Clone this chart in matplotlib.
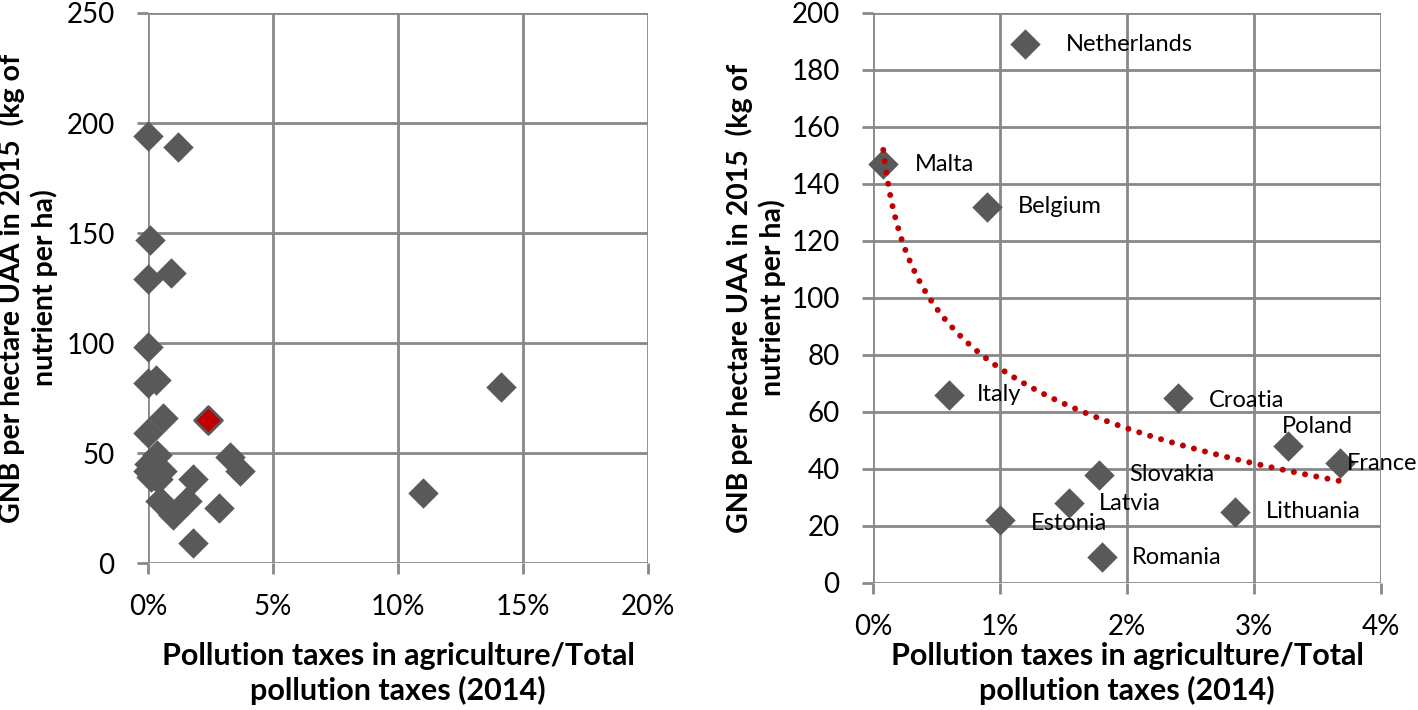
import matplotlib
matplotlib.use('Agg')
import matplotlib.pyplot as plt
from matplotlib.ticker import FuncFormatter
import numpy as np

plt.rcParams['font.family'] = ['Lato', 'DejaVu Sans']

# left panel: all EU countries (x in %, y in kg/ha)
all_x = [0.0, 1.2, 0.08, 0.0, 0.9, 0.0, 0.0, 0.3, 0.6, 0.0, 0.35, 3.27, 3.68,
         1.78, 0.48, 1.54, 1.0, 2.85, 1.8, 14.1, 11.0,
         0.0, 0.05, 0.1, 0.3, 0.4, 0.55]
all_y = [194, 189, 147, 129, 132, 98, 82, 83, 66, 59, 49, 48, 42,
         38, 28, 28, 22, 25, 9, 80, 32,
         42, 45, 39, 44, 38, 42]
hl_x = [2.4]
hl_y = [65]

# right panel: labelled countries
countries = ['Netherlands', 'Malta', 'Belgium', 'Italy', 'Croatia', 'Poland',
             'France', 'Slovakia', 'Latvia', 'Estonia', 'Lithuania', 'Romania']
sel_x = [1.2, 0.08, 0.9, 0.6, 2.4, 3.27, 3.68, 1.78, 1.54, 1.0, 2.85, 1.8]
sel_y = [189, 147, 132, 66, 65, 48, 42, 38, 28, 22, 25, 9]
# label offsets (in % and kg/ha)
lbl_off = {'Netherlands': (0.32, 0), 'Malta': (0.25, 0), 'Belgium': (0.24, 0),
           'Italy': (0.22, 0), 'Croatia': (0.24, -1), 'Poland': (-0.05, 7),
           'France': (0.05, 0), 'Slovakia': (0.24, 0), 'Latvia': (0.24, 0),
           'Estonia': (0.24, -1), 'Lithuania': (0.24, 0), 'Romania': (0.24, 0)}

grey = '#595959'
gridc = '#888888'
ylab = 'GNB per hectare UAA in 2015  (kg of\nnutrient per ha)'
xlab = 'Pollution taxes in agriculture/Total\npollution taxes (2014)'
pct = FuncFormatter(lambda v, p: '%d%%' % round(v))

fig = plt.figure(figsize=(14.18, 7.10), dpi=100)
ax1 = fig.add_axes([0.1044, 0.207, 0.3526, 0.7747])
ax2 = fig.add_axes([0.6157, 0.1789, 0.3583, 0.8028])

def style(ax):
    ax.grid(True, color=gridc, linewidth=2)
    ax.set_axisbelow(True)
    for s in ax.spines.values():
        s.set_visible(False)
    ax.tick_params(length=8, width=2, color=gridc, labelsize=20)
    ax.tick_params(axis='y', pad=16)
    ax.tick_params(axis='x', pad=14)
    ax.xaxis.set_major_formatter(pct)

ax1.scatter(all_x, all_y, marker='D', s=240, color=grey, zorder=3,
            linewidths=0, clip_on=False)
ax1.scatter(hl_x, hl_y, marker='D', s=200, color='#c00000', edgecolors=grey,
            linewidths=2, zorder=4)
ax1.set_xlim(0, 20)
ax1.set_ylim(0, 250)
ax1.set_xticks([0, 5, 10, 15, 20])
ax1.set_yticks([0, 50, 100, 150, 200, 250])
style(ax1)
ax1.set_ylabel(ylab, fontsize=20.5, fontweight='bold', labelpad=6,
               linespacing=1.25)
ax1.set_xlabel(xlab, fontsize=22, fontweight='bold', labelpad=16,
               linespacing=1.25)

ax2.scatter(sel_x, sel_y, marker='D', s=240, color=grey, zorder=3,
            linewidths=0, clip_on=False)
# logarithmic trend line fitted to the labelled countries
b, a = np.polyfit(np.log(sel_x), sel_y, 1)
tx = np.linspace(min(sel_x), max(sel_x), 200)
ax2.plot(tx, a + b * np.log(tx), color='#c00000', linestyle=(0, (0.01, 1.9)),
         linewidth=4.3, dash_capstyle='round', zorder=4)
for name, x, y in zip(countries, sel_x, sel_y):
    dx, dy = lbl_off[name]
    ax2.text(x + dx, y + dy, name, fontsize=17, va='center', ha='left',
             zorder=5)
ax2.set_xlim(0, 4)
ax2.set_ylim(0, 200)
ax2.set_xticks([0, 1, 2, 3, 4])
ax2.set_yticks(range(0, 201, 20))
style(ax2)
ax2.set_ylabel(ylab, fontsize=20.5, fontweight='bold', labelpad=4,
               linespacing=1.25)
ax2.set_xlabel(xlab, fontsize=22, fontweight='bold', labelpad=2,
               linespacing=1.25)

fig.savefig('out.png', dpi=100)
